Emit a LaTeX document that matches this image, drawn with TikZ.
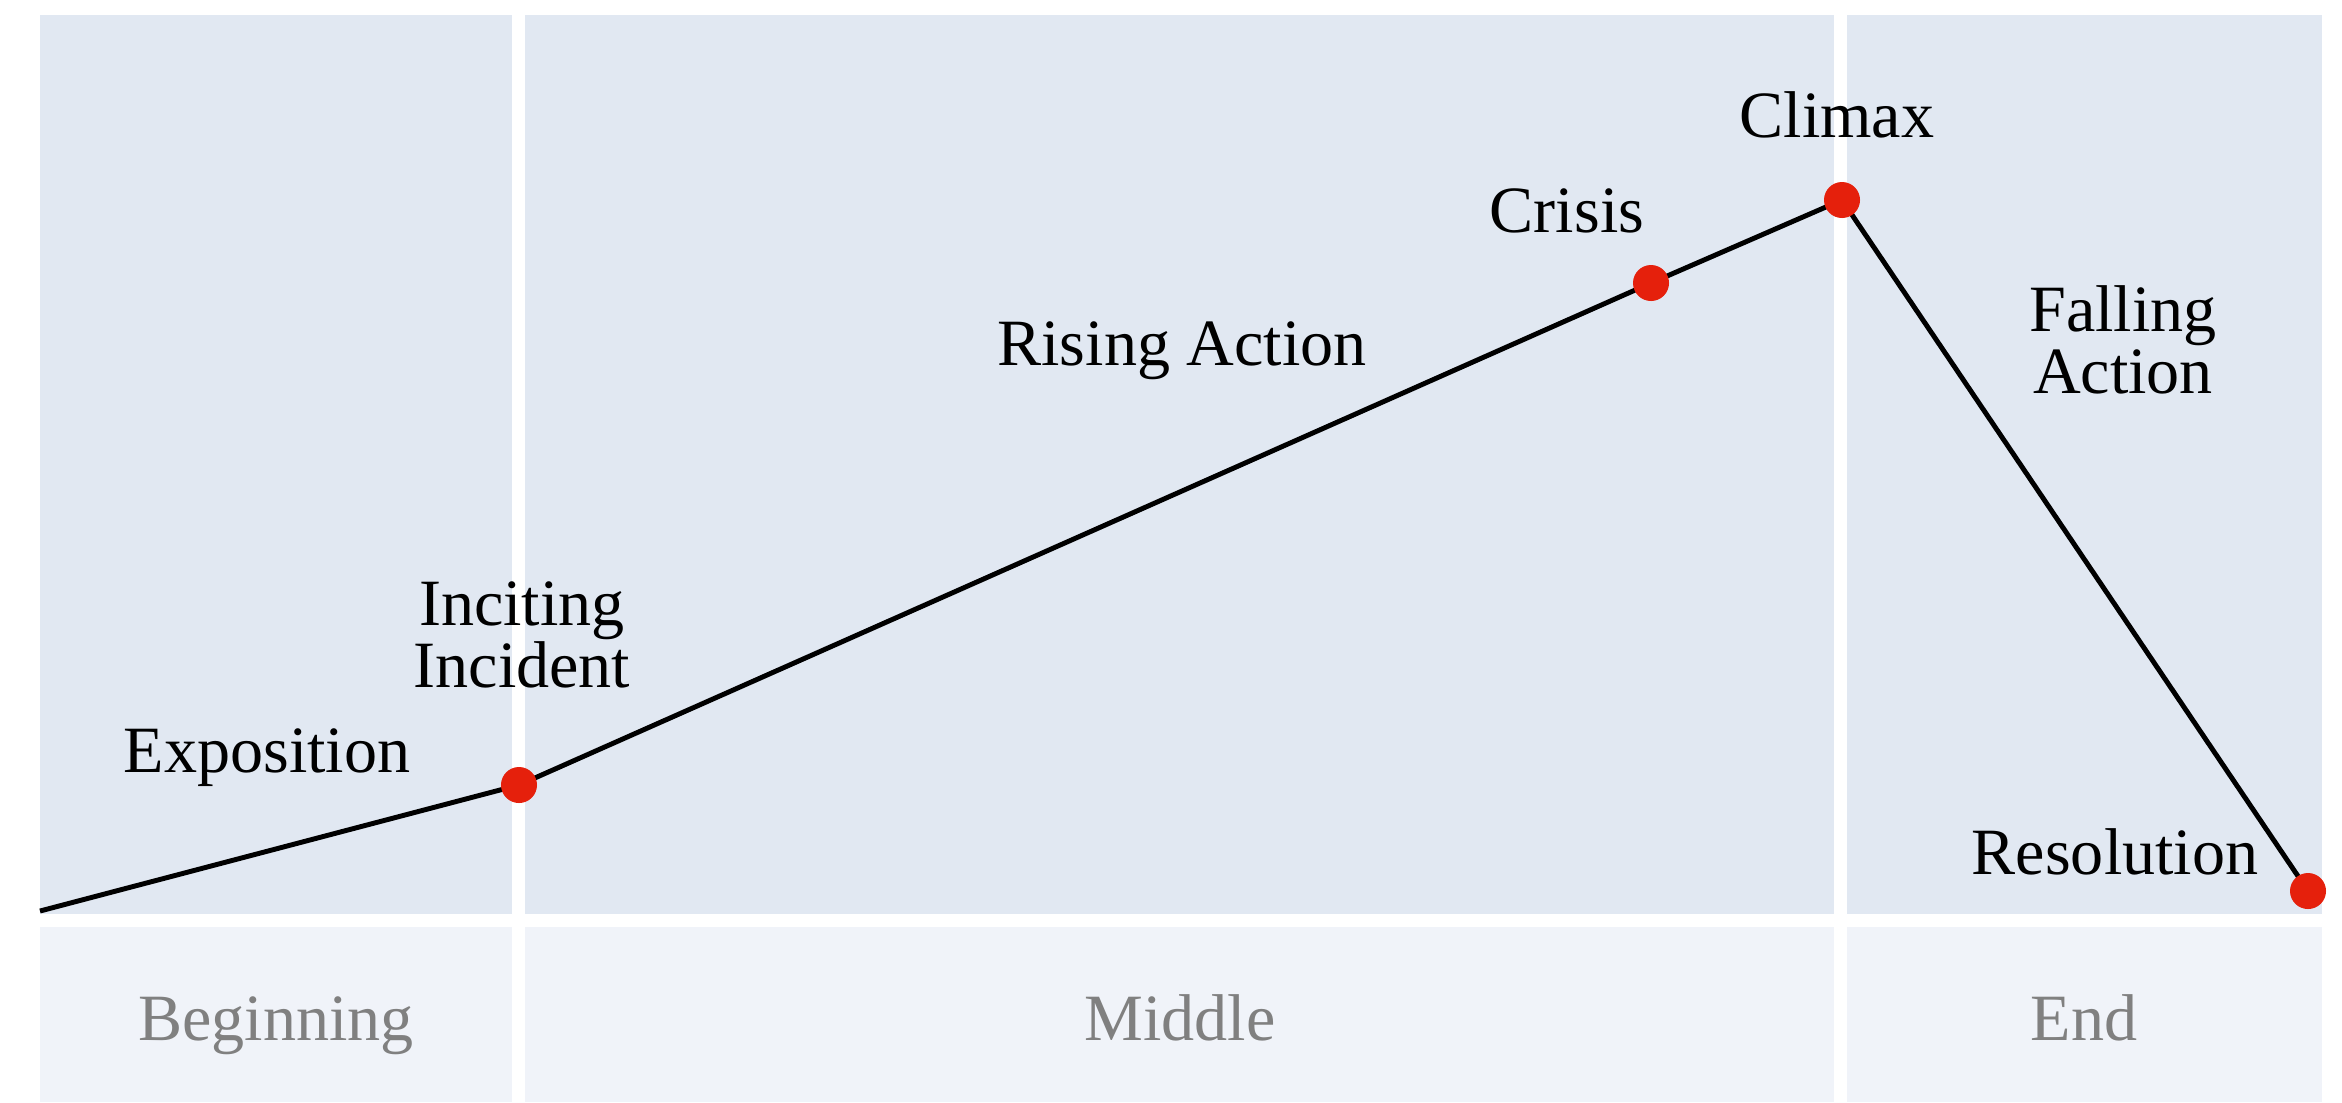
\documentclass[tikz,border=0pt]{standalone}
\usepackage{fontspec}
\setmainfont{Liberation Serif}
\definecolor{upperbg}{HTML}{E1E8F2}
\definecolor{lowerbg}{HTML}{F0F3F9}
\definecolor{dotred}{HTML}{E5200C}
\definecolor{partgray}{HTML}{808080}
\tikzset{
  plotpoint/.style={circle, fill=dotred, inner sep=0pt, minimum size=0.36cm},
  eventlabel/.style={font=\fontsize{18.8}{17.6}\selectfont, align=center, anchor=base, inner sep=0pt},
  partlabel/.style={eventlabel, text=partgray}
}
\begin{document}
\begin{tikzpicture}[x=0.01cm, y=-0.01cm]
  \useasboundingbox (0,0) rectangle (2342,1102);
  % Panels
  \foreach \l/\r in {40/512, 525/1834, 1847/2322}
  {
    \fill[upperbg] (\l,15) rectangle (\r,914);
    \fill[lowerbg] (\l,927) rectangle (\r,1102);
  }

  % Plot line
  \coordinate (start) at (40,911);
  \coordinate (inciting) at (519,785);
  \coordinate (crisis) at (1651,283);
  \coordinate (climax) at (1842,200);
  \coordinate (resolution) at (2308,891);
  \draw[line width=1.4pt, line join=round] (start) -- (inciting) -- (crisis) -- (climax) -- (resolution);
  \foreach \p in {inciting, crisis, climax, resolution}
  {
    \node[plotpoint] (\p dot) at (\p) {};
  }

  % Labels
  \node[eventlabel] (exposition) at (267,772) {Exposition};
  \node[eventlabel] (incitinglabel) at (522,687) {Inciting\\Incident};
  \node[eventlabel] (rising) at (1182,365) {Rising Action};
  \node[eventlabel] (crisislabel) at (1567,232) {Crisis};
  \node[eventlabel] (climaxlabel) at (1837,137) {Climax};
  \node[eventlabel] (falling) at (2123,393) {Falling\\Action};
  \node[eventlabel] (resolutionlabel) at (2115,874) {Resolution};
  \node[partlabel] (beginning) at (276,1040) {Beginning};
  \node[partlabel] (middle) at (1180,1040) {Middle};
  \node[partlabel] (end) at (2084,1040) {End};
\end{tikzpicture}
\end{document}
